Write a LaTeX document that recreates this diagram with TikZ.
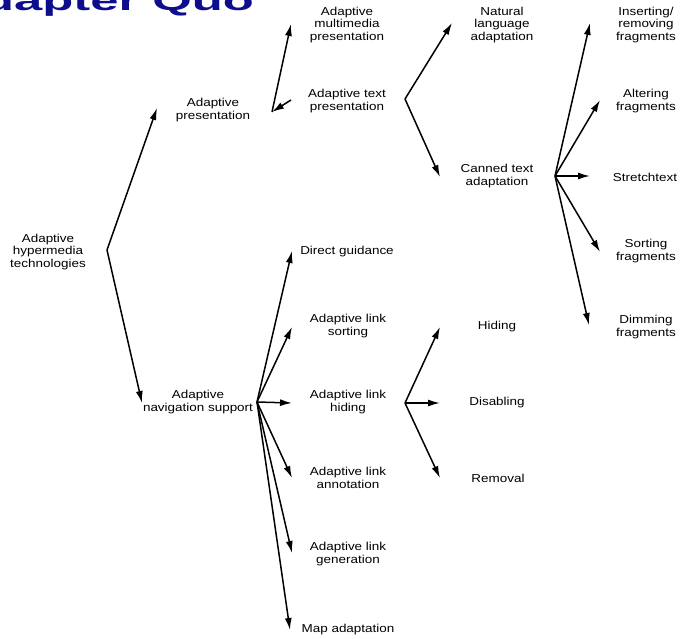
\documentclass[tikz,border=0pt]{standalone}
\usepackage{fontspec}
\setmainfont{Liberation Sans}[FakeStretch=1.17]
\newfontfamily\titlefont{Liberation Sans}
\usetikzlibrary{arrows.meta}
\definecolor{titleblue}{RGB}{14,14,140}
\begin{document}
\begin{tikzpicture}[x=1pt,y=-1pt,
  lbl/.style={font=\fontsize{11.5}{12.5}\selectfont, align=center, inner sep=0pt},
  arr/.style={line width=1.5pt, -{Latex[length=12pt,width=7pt]}}]
\useasboundingbox (0,0) rectangle (683,639);
\fill[white] (0,0) rectangle (683,639);
% title (clipped at page edge, as in the reference)
\node[anchor=base west, inner sep=0pt, text=titleblue] (title) at (-17,11)
  {\scalebox{1.08}[0.6]{\titlefont\bfseries\fontsize{47}{47}\selectfont dapter Quo}};
% nodes
\node[lbl] (aht) at (48,252) {Adaptive\\hypermedia\\technologies};
\node[lbl] (ap)  at (213,110) {Adaptive\\presentation};
\node[lbl] (ans) at (198,402) {Adaptive\\navigation support};
\node[lbl] (amp) at (347,25) {Adaptive\\multimedia\\presentation};
\node[lbl] (atp) at (347,101) {Adaptive text\\presentation};
\node[lbl] (nla) at (502,25) {Natural\\language\\adaptation};
\node[lbl] (cta) at (497,176) {Canned text\\adaptation};
\node[lbl] (irf) at (646,25) {Inserting/\\removing\\fragments};
\node[lbl] (alf) at (646,101) {Altering\\fragments};
\node[lbl] (str) at (645,177) {Stretchtext};
\node[lbl] (sof) at (646,251) {Sorting\\fragments};
\node[lbl] (dif) at (646,327) {Dimming\\fragments};
\node[lbl] (dg)  at (347,252) {Direct guidance};
\node[lbl] (als) at (348,326) {Adaptive link\\sorting};
\node[lbl] (alh) at (348,402) {Adaptive link\\hiding};
\node[lbl] (ala) at (348,478) {Adaptive link\\annotation};
\node[lbl] (alg) at (348,554) {Adaptive link\\generation};
\node[lbl] (map) at (348,630) {Map adaptation};
\node[lbl] (hid) at (497,327) {Hiding};
\node[lbl] (dis) at (497,403) {Disabling};
\node[lbl] (rem) at (498,478) {Removal};
% hubs
\coordinate (h0) at (107,250);
\coordinate (h1) at (272,112);
\coordinate (h2) at (405,99);
\coordinate (h3) at (555,176);
\coordinate (h4) at (257,402);
\coordinate (h5) at (405,403);
% tips
\coordinate (t-ap) at (157,108);
\coordinate (t-ans) at (142,403);
\coordinate (t-amp) at (291,24);
\coordinate (t-atp) at (291,100);
\coordinate (t-nla) at (452,23);
\coordinate (t-cta) at (440,177);
\coordinate (t-irf) at (590,23);
\coordinate (t-alf) at (600,100);
\coordinate (t-str) at (590,176);
\coordinate (t-sof) at (600,252);
\coordinate (t-dif) at (589,325);
\coordinate (t-dg) at (292,251);
\coordinate (t-als) at (292,327);
\coordinate (t-alh) at (292,403);
\coordinate (t-ala) at (292,478);
\coordinate (t-alg) at (292,553);
\coordinate (t-map) at (290,630);
\coordinate (t-hid) at (440,327);
\coordinate (t-dis) at (440,403);
\coordinate (t-rem) at (440,478);
% connectors
\draw[arr] (h0) -- (t-ap);
\draw[arr] (h0) -- (t-ans);
\draw[arr] (h1) -- (t-amp);
\draw[arr] (t-atp) -- (h1);
\draw[arr] (h2) -- (t-nla);
\draw[arr] (h2) -- (t-cta);
\foreach \t in {irf,alf,str,sof,dif} \draw[arr] (h3) -- (t-\t);
\foreach \t in {dg,als,alh,ala,alg,map} \draw[arr] (h4) -- (t-\t);
\foreach \t in {hid,dis,rem} \draw[arr] (h5) -- (t-\t);
\end{tikzpicture}
\end{document}
